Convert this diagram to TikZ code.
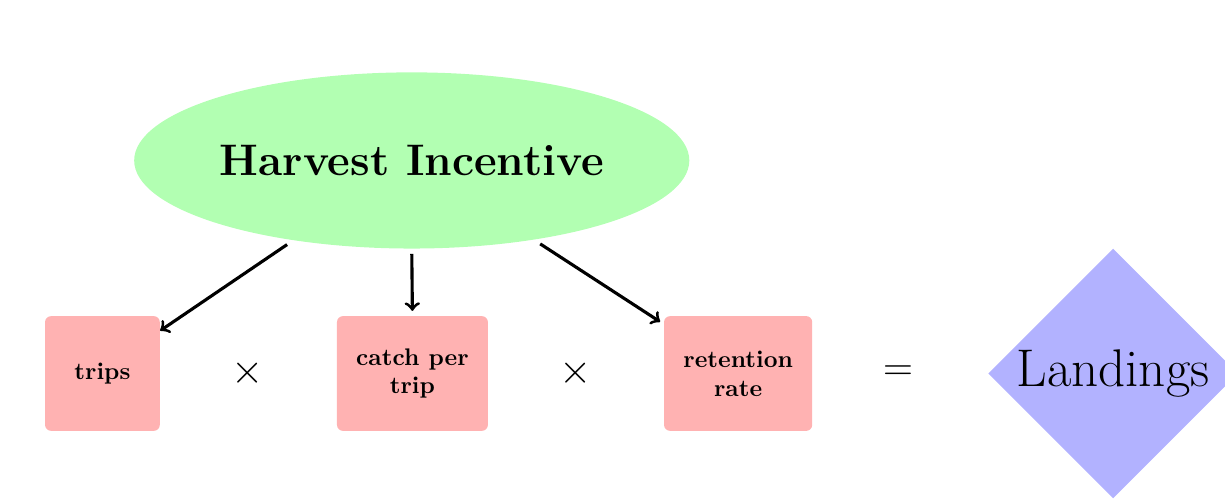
\documentclass[tikz,border=0pt]{standalone}
\usepackage[dvipsnames]{xcolor}
\usepackage{amsmath,amsfonts}
\usetikzlibrary{arrows,shapes.geometric}

\tikzset{
  factor/.style={fill=red!30, rounded corners=2.5pt, minimum height=1.68cm,
    align=center, font=\bfseries},
  flow/.style={-to, line width=1.3pt, black}
}

\begin{document}
\begin{tikzpicture}
\useasboundingbox (0,0) rectangle (17.94,7.31); % keep the page size
\node[ellipse, fill=green!30, minimum width=8.13cm, minimum height=2.58cm, inner sep=0pt,
  font=\fontsize{18.4}{22}\selectfont\bfseries] (incentive) at (6.03,4.96) {Harvest Incentive};
% the three factors
\node[factor, minimum width=1.68cm] (trips) at (1.50,1.84) {trips};
\node[factor, minimum width=2.21cm] (catch) at (6.04,1.84) {catch per\\trip};
\node[factor, minimum width=2.17cm] (retention) at (10.81,1.84) {retention\\rate};
\node[font=\LARGE] (times1) at (3.63,1.84) {$\times$};
\node[font=\LARGE] (times2) at (8.43,1.84) {$\times$};
\node[font=\LARGE] (equals) at (13.15,1.84) {$=$};
\node[diamond, fill=blue!30, minimum size=3.66cm, inner sep=0pt,
  font=\fontsize{22.1}{26}\selectfont] (landings) at (16.30,1.84) {Landings};
% arrows from the incentive
\draw[flow, shorten <=3pt] (incentive.-146) -- ([yshift=-0.22cm]trips.north east);
\draw[flow, shorten <=2pt, shorten >=2pt] (incentive.south) -- (catch.north);
\draw[flow, shorten <=3pt] (incentive.-33) -- ([shift={(-0.05cm,-0.09cm)}]retention.north west);
\end{tikzpicture}
\end{document}
